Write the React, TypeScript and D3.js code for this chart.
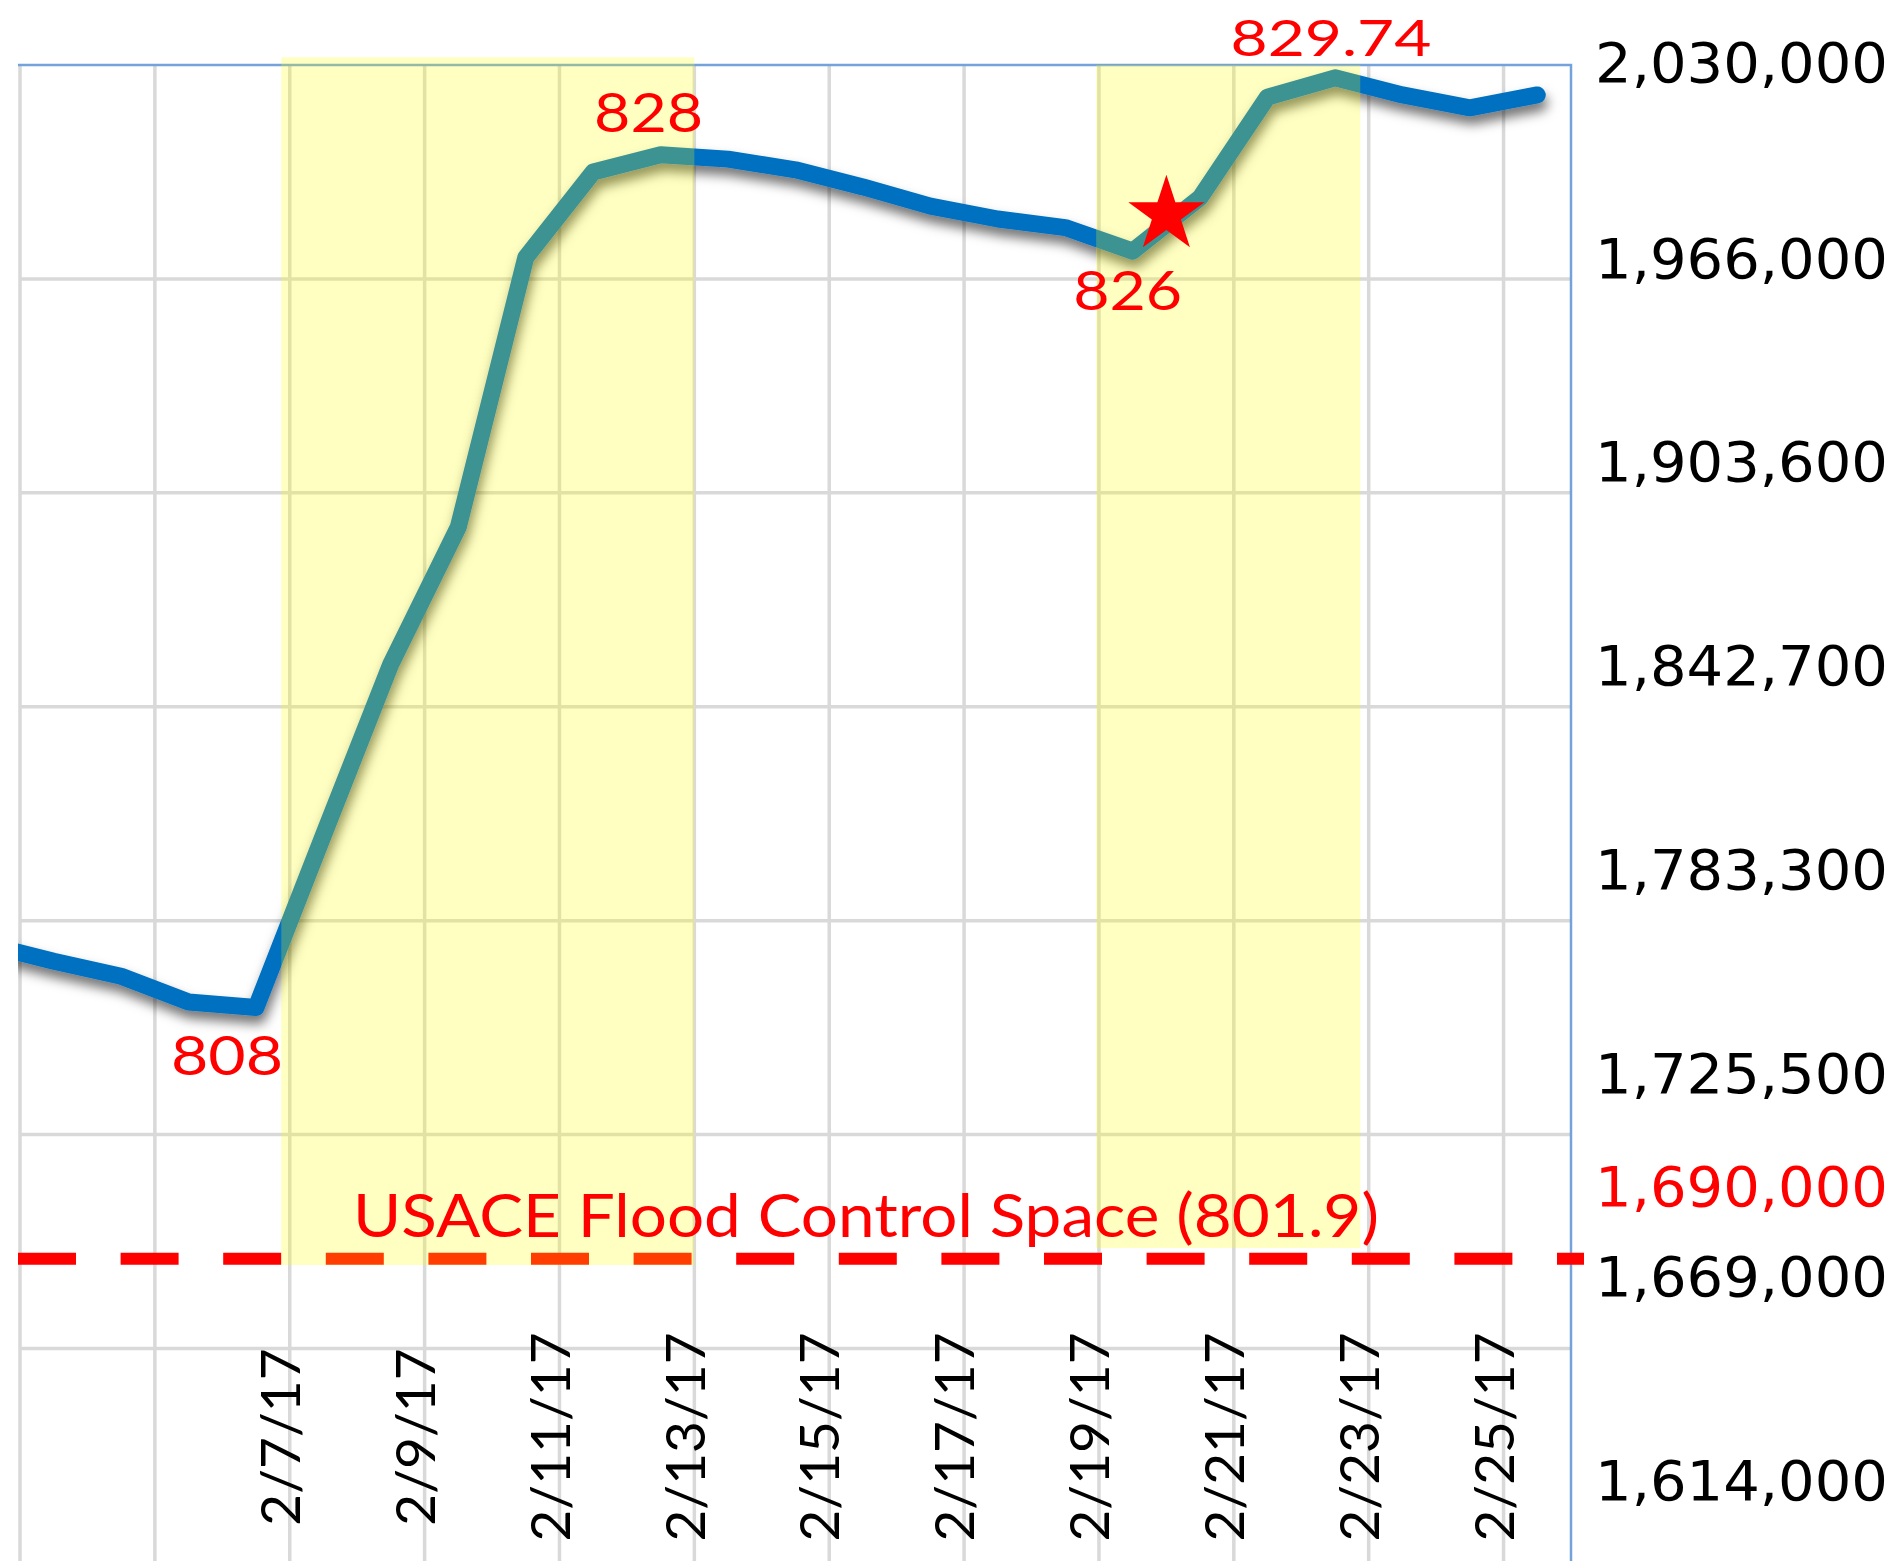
import React, { useEffect, useRef } from 'react';
import * as d3 from 'd3';

// daily lake elevation (ft), one reading per day
const dates = [
  '2017-02-02', '2017-02-03', '2017-02-04', '2017-02-05', '2017-02-06', '2017-02-07',
  '2017-02-08', '2017-02-09', '2017-02-10', '2017-02-11', '2017-02-12', '2017-02-13',
  '2017-02-14', '2017-02-15', '2017-02-16', '2017-02-17', '2017-02-18', '2017-02-19',
  '2017-02-20', '2017-02-21', '2017-02-22', '2017-02-23', '2017-02-24', '2017-02-25'
];
const elevation = [
  809.45, 809.05, 808.7, 808.1, 807.97, 812.0,
  816.0, 819.2, 825.5, 827.5, 827.9, 827.8,
  827.55, 827.15, 826.7, 826.4, 826.2, 825.65,
  826.9, 829.25, 829.7, 829.3, 829.0, 829.3
];

const gridDates = [
  '2017-02-03', '2017-02-05', '2017-02-07', '2017-02-09', '2017-02-11', '2017-02-13',
  '2017-02-15', '2017-02-17', '2017-02-19', '2017-02-21', '2017-02-23', '2017-02-25'
];
const tickDates = [
  '2017-02-07', '2017-02-09', '2017-02-11', '2017-02-13', '2017-02-15',
  '2017-02-17', '2017-02-19', '2017-02-21', '2017-02-23', '2017-02-25'
];
const elevTicks = [800, 805, 810, 815, 820, 825];

// storage (acre-ft) labels on the right and the elevation they sit at
const storageLabels = [
  '2,030,000', '1,966,000', '1,903,600', '1,842,700', '1,783,300',
  '1,725,500', '1,690,000', '1,669,000', '1,614,000'
];
const storageElev = [830.07, 825.49, 820.74, 815.97, 811.21, 806.44, 803.8, 801.7, 796.93];
const storageHighlight = [false, false, false, false, false, false, true, false, false];

// shaded periods
const shadeStart = ['2017-02-06T21:00', '2017-02-18T23:00'];
const shadeEnd = ['2017-02-13T00:00', '2017-02-22T21:00'];
const shadeTop = [830.18, 830];
const shadeBottom = [801.95, 802.35];

// annotated readings
const noteText = ['808', '828', '826', '829.74'];
const noteDates = ['2017-02-06', '2017-02-12', '2017-02-19', '2017-02-22'];

const floodElev = 802.1;
const floodText = 'USACE Flood Control Space (801.9)';
const floodTextStart = '2017-02-07T22:30';
const starDate = '2017-02-20T00:00';
const starElev = 826.5;

const W = 1903;
const H = 1561;

const App = () => {
  const svgRef = useRef(null);

  useEffect(() => {
    const parseDay = d3.utcParse('%Y-%m-%d');
    const parseTime = d3.utcParse('%Y-%m-%dT%H:%M');
    const noon = (s) => d3.utcHour.offset(parseDay(s), 12);

    const left = 20;
    const right = 1571;
    const top = 65;

    const x = d3.scaleUtc()
      .domain([parseDay('2017-02-03'), parseDay('2017-02-26')])
      .range([left, right]);
    const y = d3.scaleLinear().domain([800, 830]).range([1348.5, top]);

    const svg = d3.select(svgRef.current);
    svg.selectAll('*').remove();

    const defs = svg.append('defs');
    defs.append('clipPath').attr('id', 'plotClip')
      .append('rect').attr('x', 18).attr('y', 0).attr('width', right - 18).attr('height', H);
    defs.append('filter')
      .attr('id', 'lineShadow')
      .attr('filterUnits', 'userSpaceOnUse')
      .attr('x', 0).attr('y', 0).attr('width', W).attr('height', H)
      .append('feDropShadow')
      .attr('dx', 2).attr('dy', 8)
      .attr('stdDeviation', 6)
      .attr('flood-color', '#000')
      .attr('flood-opacity', 0.55);

    // gridlines
    const grid = svg.append('g').attr('stroke', '#D9D9D9').attr('stroke-width', 3.5);
    grid.selectAll('line.h')
      .data(elevTicks)
      .join('line')
      .attr('class', 'h')
      .attr('x1', left).attr('x2', right)
      .attr('y1', d => y(d)).attr('y2', d => y(d));
    grid.selectAll('line.v')
      .data(gridDates.map(parseDay))
      .join('line')
      .attr('class', 'v')
      .attr('x1', d => x(d)).attr('x2', d => x(d))
      .attr('y1', top).attr('y2', H);

    // plot border (top and right)
    svg.append('path')
      .attr('d', `M18,${y(830)}H${right}V${H}`)
      .attr('fill', 'none')
      .attr('stroke', '#74A3DC')
      .attr('stroke-width', 2.5);

    // flood control line
    svg.append('line')
      .attr('x1', 18).attr('x2', 1584)
      .attr('y1', y(floodElev)).attr('y2', y(floodElev))
      .attr('stroke', '#FF0000')
      .attr('stroke-width', 12)
      .attr('stroke-dasharray', '58,44.6');

    // elevation line
    const series = dates.map((d, i) => ({ date: noon(d), value: elevation[i] }));
    const line = d3.line()
      .x(d => x(d.date))
      .y(d => y(d.value));
    svg.append('g').attr('clip-path', 'url(#plotClip)')
      .append('path')
      .datum(series)
      .attr('d', line)
      .attr('fill', 'none')
      .attr('stroke', '#0070C0')
      .attr('stroke-width', 17)
      .attr('stroke-linejoin', 'round')
      .attr('stroke-linecap', 'round')
      .attr('filter', 'url(#lineShadow)');

    // shaded periods on top
    svg.append('g')
      .selectAll('rect')
      .data(shadeStart.map((s, i) => ({
        x0: parseTime(s), x1: parseTime(shadeEnd[i]), top: shadeTop[i], bottom: shadeBottom[i]
      })))
      .join('rect')
      .attr('x', d => x(d.x0))
      .attr('width', d => x(d.x1) - x(d.x0))
      .attr('y', d => y(d.top))
      .attr('height', d => y(d.bottom) - y(d.top))
      .attr('fill', '#FFFF00')
      .attr('fill-opacity', 0.24);

    // annotations
    const noteStyle = [
      { dx: -29, dy: 67, len: 112, size: 55 },
      { dx: -12, dy: -23, len: 109, size: 55 },
      { dx: -5, dy: 59, len: 109, size: 55 },
      { dx: -4, dy: -22, len: 201, size: 51 }
    ];
    svg.append('g')
      .selectAll('text')
      .data(noteText.map((t, i) => ({ t, date: noon(noteDates[i]), i })))
      .join('text')
      .attr('x', d => x(d.date) + noteStyle[d.i].dx)
      .attr('y', d => y(elevation[dates.indexOf(noteDates[d.i])]) + noteStyle[d.i].dy)
      .attr('text-anchor', 'middle')
      .attr('textLength', d => noteStyle[d.i].len)
      .attr('lengthAdjust', 'spacingAndGlyphs')
      .style('font-family', 'Lato, "Open Sans", sans-serif')
      .style('font-size', d => `${noteStyle[d.i].size}px`)
      .attr('fill', '#FF0000')
      .text(d => d.t);

    svg.append('text')
      .attr('x', x(parseTime(floodTextStart)))
      .attr('y', y(floodElev) - 22)
      .attr('textLength', 1026)
      .attr('lengthAdjust', 'spacingAndGlyphs')
      .style('font', '60px Lato, "Open Sans", sans-serif')
      .attr('fill', '#FF0000')
      .text(floodText);

    svg.append('path')
      .attr('d', d3.symbol(d3.symbolStar, 1800)())
      .attr('transform', `translate(${x(parseTime(starDate))},${y(starElev)})`)
      .attr('fill', '#FF0000');

    // right-hand storage labels
    svg.append('g')
      .selectAll('text')
      .data(storageLabels.map((t, i) => ({ t, e: storageElev[i], red: storageHighlight[i] })))
      .join('text')
      .attr('x', 1595)
      .attr('y', d => y(d.e))
      .attr('dy', '0.36em')
      .attr('textLength', 293)
      .attr('lengthAdjust', 'spacingAndGlyphs')
      .style('font', '55px "DejaVu Sans", Verdana, sans-serif')
      .attr('fill', d => (d.red ? '#FF0000' : '#000'))
      .text(d => d.t);

    // rotated date labels
    const fmt = d3.utcFormat('%-m/%-d/%y');
    svg.append('g')
      .selectAll('text')
      .data(tickDates.map(parseDay))
      .join('text')
      .attr('transform', d => `translate(${x(d) - 9},1437) rotate(-90)`)
      .attr('text-anchor', 'middle')
      .attr('dy', '0.35em')
      .style('font', '55px Lato, "Open Sans", sans-serif')
      .attr('fill', '#000')
      .text(d => fmt(d));
  }, []);

  return (
    <div style={{ position: 'absolute', left: 0, top: 0 }}>
      <svg ref={svgRef} width={W} height={H} style={{ display: 'block', background: '#fff' }}></svg>
    </div>
  );
};

export default App;
